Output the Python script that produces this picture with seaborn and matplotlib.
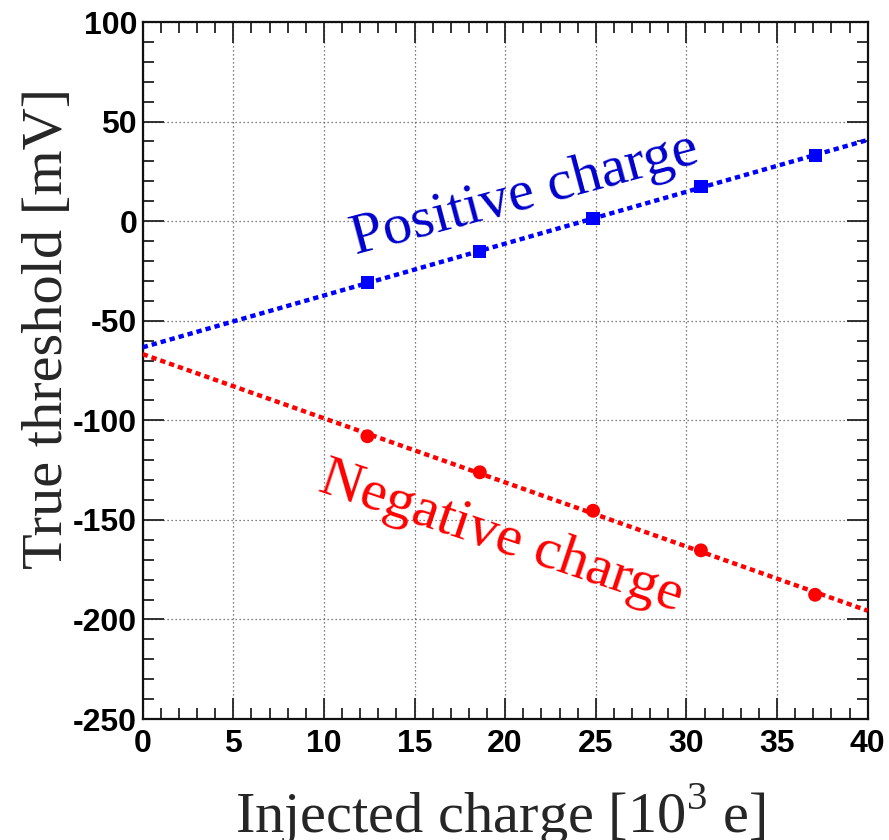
import numpy as np
import pandas as pd
import matplotlib
matplotlib.use("Agg")
import matplotlib.pyplot as plt
from matplotlib.ticker import MultipleLocator
import seaborn as sns

# ---- data ----
injected = [12.4, 18.6, 24.85, 30.8, 37.1]
pos_threshold = [-31.0, -15.1, 1.2, 17.3, 33.0]
neg_threshold = [-108.0, -126.1, -145.4, -165.3, -187.6]
x_range = [0, 40]
y_range = [-250, 100]
x_ticks = [0, 5, 10, 15, 20, 25, 30, 35, 40]
y_ticks = [-250, -200, -150, -100, -50, 0, 50, 100]

sns.set_style("ticks")
plt.rcParams["font.family"] = ["Liberation Serif", "DejaVu Serif"]
plt.rcParams["mathtext.fontset"] = "custom"
plt.rcParams["mathtext.rm"] = "Liberation Serif"
plt.rcParams["axes.unicode_minus"] = False

fig = plt.figure(figsize=(8.89, 8.4), dpi=100)
ax = fig.add_axes([0.1605, 0.144, 0.8155, 0.8298])

# linear fits drawn across the full x range
xfit = np.array(x_range, dtype=float)
pfit_pos = np.polyfit(injected, pos_threshold, 1)
pfit_neg = np.polyfit(injected, neg_threshold, 1)
fit_df = pd.DataFrame({
    "x": np.concatenate([xfit, xfit]),
    "y": np.concatenate([np.polyval(pfit_pos, xfit), np.polyval(pfit_neg, xfit)]),
    "series": ["pos", "pos", "neg", "neg"],
})
dash = (0, (1.2, 0.9))
sns.lineplot(data=fit_df[fit_df.series == "pos"], x="x", y="y", color="#0000ff",
             lw=3.2, linestyle=dash, ax=ax, zorder=3)
sns.lineplot(data=fit_df[fit_df.series == "neg"], x="x", y="y", color="#ff0000",
             lw=3.2, linestyle=dash, ax=ax, zorder=3)

sns.scatterplot(x=injected, y=pos_threshold, marker="s", s=90, color="#0000ff",
                edgecolor="none", ax=ax, zorder=4)
sns.scatterplot(x=injected, y=neg_threshold, marker="o", s=100, color="#ff0000",
                edgecolor="none", ax=ax, zorder=4)

ax.set_xlim(*x_range)
ax.set_ylim(*y_range)
ax.set_xticks(x_ticks)
ax.set_yticks(y_ticks)
ax.xaxis.set_minor_locator(MultipleLocator(1))
ax.yaxis.set_minor_locator(MultipleLocator(10))

ax.grid(which="major", linestyle=(0, (1, 2.2)), color="#555555", linewidth=0.9)
ax.tick_params(which="both", direction="in", top=True, right=True, width=1.3,
               color="#222222", labelcolor="black")
ax.tick_params(which="major", length=15)
ax.tick_params(which="minor", length=8)
ax.tick_params(axis="x", which="major", pad=7)
ax.tick_params(axis="y", which="major", pad=4)
for sp in ax.spines.values():
    sp.set_linewidth(1.6)
    sp.set_color("#111111")

for lab in ax.get_xticklabels() + ax.get_yticklabels():
    lab.set_fontfamily("Liberation Sans")
    lab.set_fontweight("bold")
    lab.set_fontsize(23)

ax.set_xlabel("")
ax.set_ylabel("")
fig.text(0.5624, 0.0095, r"Injected charge [10$^{\mathregular{3}}$ e]", fontsize=42,
         ha="center", va="baseline")
fig.text(0.0697, 0.6095, "True threshold [mV]", fontsize=42, rotation=90,
         ha="center", va="baseline", rotation_mode="anchor")

ax.text(21.1, 13.4, "Positive charge", color="#0000cc", fontsize=42, rotation=15,
        ha="center", va="center", rotation_mode="anchor", zorder=5)
ax.text(19.8, -159, "Negative charge", color="#ff0000", fontsize=42, rotation=-18.5,
        ha="center", va="center", rotation_mode="anchor", zorder=5)

fig.savefig("out.png", dpi=100)
